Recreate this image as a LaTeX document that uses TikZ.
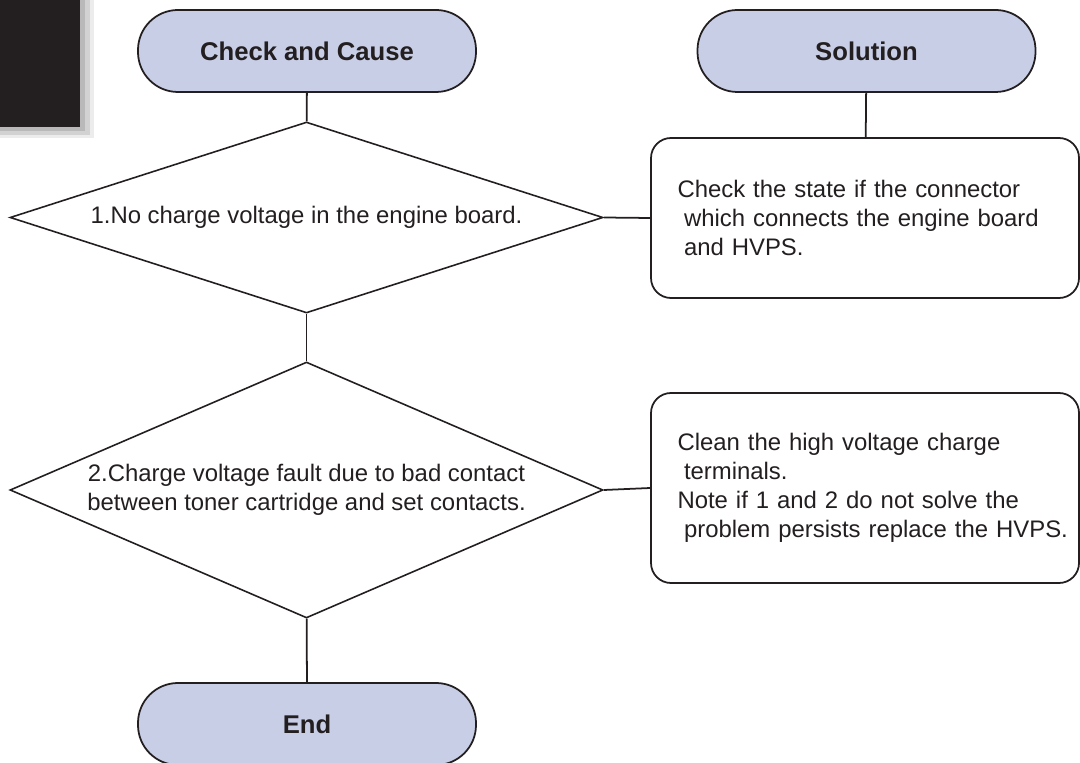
\documentclass[tikz,border=0pt]{standalone}
\usepackage{fontspec}
\setmainfont{Liberation Sans}
\usepackage{tikz}
\usetikzlibrary{positioning,shapes.geometric}
\definecolor{term}{HTML}{C9CEE7}
\definecolor{ink}{HTML}{231F20}

\newcommand{\lead}{\hspace*{0.2cm}}
\newcommand{\indt}{\hspace*{0.33cm}}

\tikzset{
  terminal/.style={draw=ink,line width=1pt,fill=term,rectangle,
    rounded corners=0.8cm,minimum width=6.76cm,minimum height=1.64cm,
    font=\fontsize{14.6}{17}\selectfont\bfseries,text=ink},
  decision/.style={draw=ink,line width=0.9pt,diamond,inner sep=0pt,
    minimum width=11.86cm,align=center,
    font=\fontsize{13.6}{16.4}\selectfont,text=ink},
  answer/.style={draw=ink,line width=1pt,rectangle,rounded corners=0.4cm,
    minimum width=8.56cm,inner xsep=0.33cm,text width=7.9cm,align=left,
    font=\fontsize{13.6}{16.4}\selectfont,text=ink},
  link/.style={draw=ink,line width=1pt}
}

\begin{document}
\begin{tikzpicture}

  \useasboundingbox (0,0) rectangle (21.6,15.24);
  \clip (0,0) rectangle (21.6,15.24);

  % corner tab with shadow
  \fill[gray!15] (0,12.48) rectangle (1.88,15.24);
  \fill[gray!35] (0,12.54) rectangle (1.8,15.24);
  \fill[gray!55] (0,12.62) rectangle (1.7,15.24);
  \fill[ink] (0,12.70) rectangle (1.6,15.24);

  % headers
  \node[terminal] (cause) at (6.14,14.22) {Check and Cause};
  \node[terminal] (sol) at (17.33,14.22) {Solution};

  % checks
  \node[decision,aspect=3.105,minimum height=3.82cm] (q1) at (6.13,10.89)
    {1.No charge voltage in the engine board.};
  \node[decision,aspect=2.316,minimum height=5.12cm] (q2) at (6.13,5.44)
    {2.Charge voltage fault due to bad contact\\between toner cartridge and set contacts.};

  % solutions
  \node[answer,minimum height=3.2cm] (a1) at (17.30,10.88)
    {\lead Check the state if the connector\\
     \indt which connects the engine board\\
     \indt and HVPS.};
  \node[answer,minimum height=3.8cm] (a2) at (17.30,5.48)
    {\lead Clean the high voltage charge\\
     \indt terminals.\\
     \lead Note if 1 and 2 do not solve the\\
     \indt\mbox{problem persists replace the HVPS.}};

  \node[terminal] (end) at (6.14,0.76) {End};

  % connectors
  \draw[link] (cause) -- (q1);
  \draw[link] (sol) -- (a1);
  \draw[link] (q1.east) -- (a1.west);
  \draw[link] (q1) -- (q2);
  \draw[link] (q2.east) -- (a2.west);
  \draw[link] (q2) -- (end);

\end{tikzpicture}
\end{document}
